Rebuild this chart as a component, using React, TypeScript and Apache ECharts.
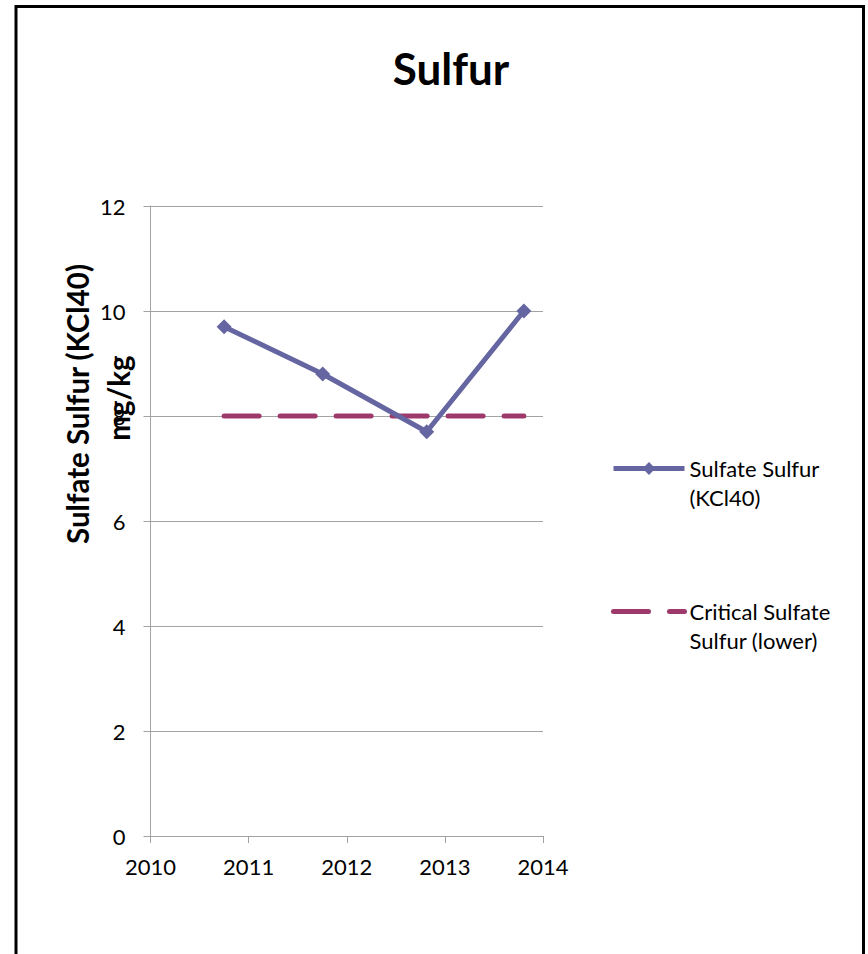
import React, { useEffect, useRef } from "react";
import * as echarts from "echarts";

// ---- data ----
const chartTitle = "Sulfur";
const yAxisTitleLines = ["Sulfate Sulfur (KCl40)", "mg/kg"];
const xTickYears = [2010, 2011, 2012, 2013, 2014];
const yTicks = [0, 2, 4, 6, 8, 10, 12];
const sampleDates = [2010.75, 2011.755, 2012.815, 2013.805];
const sulfateSulfur = [9.7, 8.8, 7.7, 10.0];
const criticalLower = [8, 8, 8, 8];
const seriesNames = ["Sulfate Sulfur\n(KCl40)", "Critical Sulfate\nSulfur (lower)"];

const FONT = "Lato, 'Open Sans', sans-serif";
const BLUE = "#6566A1";
const MAROON = "#9D3A6B";

export default function App() {
  const ref = useRef<HTMLDivElement>(null);

  useEffect(() => {
    if (!ref.current) return;
    const chart = echarts.init(ref.current, undefined, { renderer: "svg" });
    const gray = "#A3A3A3";
    const option: any = {
      animation: false,
      backgroundColor: "#ffffff",
      textStyle: { fontFamily: FONT },
      graphic: [
        {
          type: "rect",
          shape: { x: 16, y: 6.5, width: 847.5, height: 1100 },
          style: { fill: "none", stroke: "#000", lineWidth: 3 },
          silent: true,
        },
        {
          type: "text",
          x: 451,
          y: 68,
          style: {
            text: chartTitle,
            font: `bold 44px ${FONT}`,
            fill: "#000",
            textAlign: "center",
            textVerticalAlign: "middle",
          },
        },
        {
          type: "text",
          x: 77,
          y: 404,
          rotation: Math.PI / 2,
          style: {
            text: yAxisTitleLines[0],
            font: `bold 29.5px ${FONT}`,
            fill: "#000",
            textAlign: "center",
            textVerticalAlign: "middle",
          },
        },
        {
          type: "text",
          x: 118,
          y: 398,
          rotation: Math.PI / 2,
          style: {
            text: yAxisTitleLines[1],
            font: `bold 29.5px ${FONT}`,
            fill: "#000",
            textAlign: "center",
            textVerticalAlign: "middle",
          },
        },
      ],
      grid: { left: 150.5, right: 325, top: 206, bottom: 118, containLabel: false },
      xAxis: {
        type: "value",
        min: xTickYears[0],
        max: xTickYears[xTickYears.length - 1],
        interval: 1,
        axisLine: { show: true, onZero: false, lineStyle: { color: gray, width: 1 } },
        axisTick: { show: true, length: 7, lineStyle: { color: gray } },
        splitLine: { show: false },
        axisLabel: {
          formatter: (v: number) => String(v),
          color: "#000",
          fontFamily: FONT,
          fontSize: 22,
          margin: 19,
        },
      },
      yAxis: {
        type: "value",
        min: yTicks[0],
        max: yTicks[yTicks.length - 1],
        interval: 2,
        axisLine: { show: true, lineStyle: { color: gray, width: 1 } },
        axisTick: { show: true, length: 7, lineStyle: { color: gray } },
        splitLine: { show: true, lineStyle: { color: gray, width: 1 } },
        axisLabel: {
          color: "#000",
          fontFamily: FONT,
          fontSize: 22,
          margin: 25,
        },
      },
      legend: {
        orient: "vertical",
        left: 611,
        top: 425,
        padding: 0,
        itemWidth: 71,
        itemHeight: 16,
        itemGap: 56,
        formatter: (name: string) => "\n" + name,
        data: [
          {
            name: seriesNames[0],
            lineStyle: { color: BLUE, width: 5 },
            itemStyle: { color: BLUE },
          },
          {
            name: seriesNames[1],
            lineStyle: { color: MAROON, width: 5, type: [35, 21], cap: "round" },
            itemStyle: { color: MAROON, opacity: 0 },
          },
        ],
        textStyle: {
          fontFamily: FONT,
          fontSize: 22,
          color: "#000",
          lineHeight: 29,
        },
      },
      series: [
        {
          name: seriesNames[0],
          type: "line",
          z: 4,
          data: sampleDates.map((d, i) => [d, sulfateSulfur[i]]),
          symbol: "diamond",
          symbolSize: 15,
          lineStyle: { color: BLUE, width: 5 },
          itemStyle: { color: BLUE },
        },
        {
          name: seriesNames[1],
          type: "line",
          z: 3,
          data: sampleDates.map((d, i) => [d, criticalLower[i]]),
          symbol: "none",
          lineStyle: { color: MAROON, width: 5, type: [35, 21], cap: "round" },
          itemStyle: { color: MAROON },
        },
      ],
    };
    chart.setOption(option);
    return () => chart.dispose();
  }, []);

  return (
    <div
      ref={ref}
      style={{ position: "fixed", left: 0, top: 0, width: 868, height: 954, background: "#fff" }}
    />
  );
}
